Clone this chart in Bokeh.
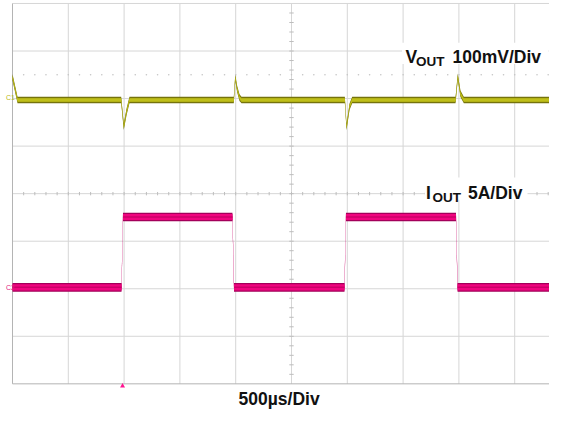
import numpy as np
from bokeh.plotting import figure
from bokeh.models import Label
from bokeh.core.properties import value
from bokeh.embed import file_html
from bokeh.resources import INLINE

# ---------------- data ----------------
time_per_div_us = 500
vout_per_div_mv = 100
iout_per_div_a = 5

# V_OUT deviation from its DC level (mV)
vout_time_us = [0, 45, 974, 997, 1022, 1048, 1983, 1996, 2013, 2034, 2052,
                2978, 2993, 3020, 3044, 3970, 3990, 4014, 4044, 5000]
vout_mv = [48, 0, 0, -56, -25, 0, 0, 47, 23, 5, 0,
           0, -57, -14, 0, 0, 49, 13, 0, 0]

# I_OUT load step (A)
iout_time_us = [0, 977, 990, 1971, 1985, 2975, 2988, 3974, 3988, 5000]
iout_a = [0, 0, 7.4, 7.4, 0, 0, 7.4, 7.4, 0, 0]

trigger_time_us = 986

# channel offsets on screen (divisions from centre)
vout_offset_div = 1.97
iout_offset_div = -1.97

# ---------------- geometry helpers (reference-picture pixels) ----------------
PX_PER_DIV_X = 55.8
PX_PER_DIV_Y = 49.4
X0 = 12.0      # x of t = 0
YC = 200.7     # y of centre line
REF_W, REF_H = 565, 426
W, H = 549, 410          # fits the 565x426 window with its 8px margin


def px2t(x):
    return (x - X0) * time_per_div_us / PX_PER_DIV_X


def px2d(y):
    return (YC - y) / PX_PER_DIV_Y


p = figure(width=W, height=H,
           x_range=(px2t(0), px2t(W)),
           y_range=(px2d(REF_H), px2d(0)),
           output_backend="svg", toolbar_location=None,
           x_axis_location=None, y_axis_location=None,
           min_border=0, min_border_left=0, min_border_right=0,
           min_border_top=0, min_border_bottom=0)
p.grid.visible = False
p.outline_line_color = None
p.background_fill_color = "white"
p.border_fill_color = "white"

# ---------------- graticule ----------------
n_x = 10
n_y = 8
gx = [i * time_per_div_us for i in range(1, n_x + 1)]
p.segment(x0=gx, y0=[-4] * len(gx), x1=gx, y1=[4] * len(gx),
          line_color="#d6d6d6", line_width=1)
gy = list(range(-3, 5))
p.segment(x0=[0] * len(gy), y0=gy, x1=[n_x * time_per_div_us] * len(gy), y1=gy,
          line_color="#d6d6d6", line_width=1)
# border
p.segment(x0=[0, 0], y0=[-4, -4], x1=[0, n_x * time_per_div_us], y1=[4, -4],
          line_color="#b4b4b4", line_width=1)

# centre-line minor ticks
tx = [i * time_per_div_us / 5 for i in range(1, n_x * 5)]
p.segment(x0=tx, y0=[-0.035] * len(tx), x1=tx, y1=[0.035] * len(tx),
          line_color="#bdbdbd", line_width=1)
ty = [i / 5 - 4 for i in range(1, n_y * 5)]
dx = 2.2 * time_per_div_us / PX_PER_DIV_X
tc = n_x * time_per_div_us / 2
p.segment(x0=[tc - dx] * len(ty), y0=ty, x1=[tc + dx] * len(ty), y1=ty,
          line_color="#bdbdbd", line_width=1)
# dotted reference row
p.scatter(x=tx, y=[2.5] * len(tx), size=1.6, color="#c4c4c4", line_color=None)

# white boxes behind the labels
p.quad(left=[px2t(401.5), px2t(424.5)], right=[px2t(548), px2t(527)],
       top=[px2d(44), px2d(184)], bottom=[px2d(66), px2d(207)],
       fill_color="white", line_color=None)

# ---------------- traces ----------------
vt = np.array(vout_time_us, dtype=float)
vd = vout_offset_div + np.array(vout_mv, dtype=float) / vout_per_div_mv
it = np.array(iout_time_us, dtype=float)
idv = iout_offset_div + np.array(iout_a, dtype=float) / iout_per_div_a


def band(x, y, half_px, color):
    h = half_px / PX_PER_DIV_Y
    p.varea(x=x, y1=y - h, y2=y + h, fill_color=color)


band(vt, vd, 3.4, "#75730c")
band(vt, vd, 2.0, "#b3b216")
band(vt, vd, 0.7, "#c4c41c")

band(it, idv, 4.5, "#a3005a")
band(it, idv, 3.2, "#f0057f")
band(it, idv, 0.8, "#cc0069")

# channel markers and trigger marker
p.text(x=[px2t(5.5)], y=[vout_offset_div + 0.05], text=["C1"], text_color="#b8b820",
       text_font=value("Liberation Sans"), text_font_size=value("7px"),
       text_baseline="middle")
p.text(x=[px2t(5.5)], y=[iout_offset_div], text=["C2"], text_color="#e0207f",
       text_font=value("Liberation Sans"), text_font_size=value("7px"),
       text_baseline="middle")
p.scatter(x=[trigger_time_us], y=[px2d(400.5)], marker="triangle", size=5,
          color="#ff1490", line_color=None)

# ---------------- labels ----------------
FONT = "Liberation Sans"
BIG = "17.5px"
SUB = "13.5px"


def label(x, y, s, size):
    p.add_layout(Label(x=px2t(x), y=px2d(y), text=s, text_font=FONT,
                       text_font_style="bold", text_font_size=size,
                       text_color="#111111", text_baseline="alphabetic",
                       text_align="left"))


label(405, 58.5, "V", BIG)
label(415.5, 63.5, "OUT", SUB)
label(452, 58.5, "100mV/Div", BIG)

label(425.5, 200, "I", BIG)
label(432, 205, "OUT", SUB)
label(467.5, 200, "5A/Div", BIG)

label(238, 414.5, "500µs/Div", BIG)

open("out.html", "w").write(file_html(p, INLINE))
